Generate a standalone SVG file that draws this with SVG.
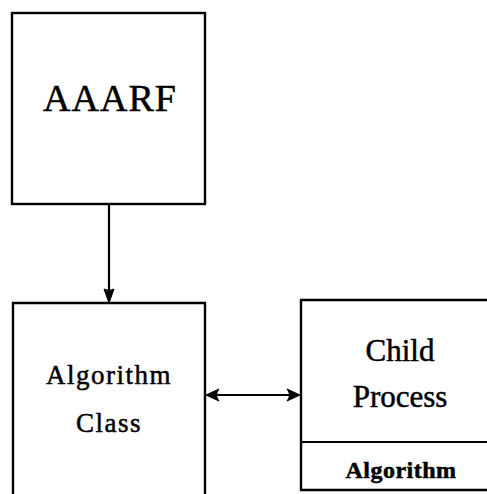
<svg xmlns="http://www.w3.org/2000/svg" width="487" height="494" viewBox="0 0 487 494">
<style>
.box{fill:#fff;stroke:#000;stroke-width:2.4}
.lbl{font-family:"Liberation Serif","DejaVu Serif",serif;fill:#000;stroke:#000;stroke-width:0.5;text-anchor:middle}
.conn{stroke:#000;stroke-width:2.2;fill:none}
.head{fill:#000;stroke:#000;stroke-width:1}
</style>
<rect width="487" height="494" fill="#fff"/>
<g id="aaarf">
<rect class="box" x="12" y="13" width="193" height="191"/>
<text class="lbl" x="110" y="111" font-size="38" letter-spacing="1">AAARF</text>
</g>
<g id="algorithm-class">
<path class="box" d="M13,498 V303 H205 V498"/>
<text class="lbl" x="109" y="384" font-size="27" letter-spacing="1.5">Algorithm</text>
<text class="lbl" x="109" y="432" font-size="27" letter-spacing="1.5">Class</text>
</g>
<g id="child-process">
<path class="box" d="M492,300 H301 V490 H492"/>
<line class="conn" x1="301" y1="442" x2="492" y2="442" stroke-width="2.4"/>
<text class="lbl" x="400" y="361" font-size="31">Child</text>
<text class="lbl" x="400" y="407" font-size="31">Process</text>
<text class="lbl" x="401" y="478" font-size="24" font-weight="bold" letter-spacing="0.5">Algorithm</text>
</g>
<g id="connectors">
<line class="conn" x1="109" y1="204" x2="109" y2="296"/>
<path class="head" d="M109,303 L104,289 Q109,292 114,289 Z"/>
<line class="conn" x1="210" y1="395" x2="296" y2="395"/>
<path class="head" d="M206,395 L219,389 Q214,395 219,401 Z"/>
<path class="head" d="M300,395 L287,389 Q292,395 287,401 Z"/>
</g>
</svg>
